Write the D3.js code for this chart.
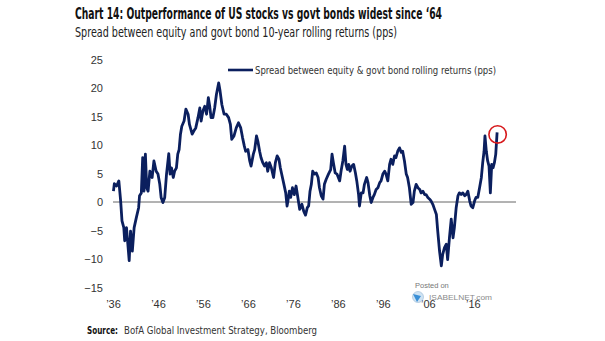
<!DOCTYPE html>
<html lang="en">
<head>
  <meta charset="UTF-8" />
  <title>Chart 14</title>
  <script src="https://d3js.org/d3.v7.min.js"></script>
  <style>
    body { margin: 0; background: #fff; }
    svg { display: block; font-family: "Liberation Sans Narrow", "DejaVu Sans Condensed", "Open Sans", sans-serif; }
    .tick text { fill: #333; font-size: 11px; }
  </style>
</head>
<body>
  <svg id="chart" width="605" height="341"></svg>
  <script>
    // spread between equity & govt bond 10y rolling returns (pps)
    const years = [
      1936.1, 1936.3, 1936.8, 1937.3, 1937.7, 1938.0, 1938.4, 1938.6, 1939.0, 1939.3,
      1939.6, 1939.9, 1940.3, 1940.7, 1941.2, 1941.7, 1941.9, 1942.3, 1942.6, 1942.9,
      1943.2, 1943.5, 1943.8, 1944.2, 1944.7, 1945.1, 1945.6, 1946.0, 1946.4, 1946.7,
      1947.1, 1947.5, 1947.9, 1948.4, 1948.7, 1949.0, 1949.4, 1949.7, 1950.1, 1950.4,
      1950.7, 1951.0, 1951.3, 1951.8, 1952.2, 1952.7, 1953.0, 1953.6, 1954.0, 1954.4,
      1954.9, 1955.3, 1955.6, 1956.0, 1956.4, 1956.8, 1957.2, 1957.5, 1957.8, 1958.2,
      1958.6, 1959.0, 1959.5, 1959.8, 1960.2, 1960.7, 1961.2, 1961.7, 1962.1, 1962.4,
      1962.9, 1963.4, 1963.9, 1964.4, 1964.8, 1965.2, 1965.5, 1966.0, 1966.4, 1966.7,
      1967.2, 1967.5, 1967.9, 1968.2, 1968.6, 1968.9, 1969.3, 1969.7, 1970.1, 1970.4,
      1970.8, 1971.2, 1971.7, 1972.1, 1972.5, 1972.9, 1973.2, 1973.5, 1974.0, 1974.4,
      1974.7, 1974.9, 1975.2, 1975.5, 1975.9, 1976.3, 1976.7, 1977.1, 1977.5, 1978.0,
      1978.4, 1978.8, 1979.2, 1979.5, 1979.8, 1980.1, 1980.4, 1980.8, 1981.2, 1981.6,
      1981.9, 1982.3, 1982.7, 1983.0, 1983.4, 1983.9, 1984.4, 1984.7, 1985.0, 1985.4,
      1985.8, 1986.4, 1986.7, 1987.1, 1987.5, 1987.8, 1988.1, 1988.4, 1988.7, 1989.1,
      1989.5, 1989.9, 1990.2, 1990.6, 1990.8, 1991.2, 1991.6, 1991.9, 1992.4, 1992.7,
      1993.1, 1993.4, 1993.8, 1994.1, 1994.5, 1994.9, 1995.3, 1995.6, 1996.0, 1996.4,
      1996.7, 1997.1, 1997.5, 1997.8, 1998.2, 1998.6, 1998.9, 1999.3, 1999.7, 2000.1,
      2000.4, 2000.8, 2001.2, 2001.5, 2001.9, 2002.3, 2002.7, 2003.0, 2003.4, 2003.8,
      2004.2, 2004.5, 2004.9, 2005.3, 2005.6, 2006.0, 2006.4, 2006.7, 2007.1, 2007.5,
      2007.9, 2008.2, 2008.6, 2009.0, 2009.3, 2009.7, 2010.1, 2010.4, 2010.8, 2011.2,
      2011.6, 2011.9, 2012.3, 2012.7, 2013.0, 2013.4, 2013.8, 2014.2, 2014.5, 2014.9,
      2015.3, 2015.6, 2016.0, 2016.4, 2016.7, 2017.1, 2017.5, 2017.9, 2018.2, 2018.5,
      2018.7, 2019.0, 2019.3, 2019.6, 2019.9, 2020.2, 2020.5, 2020.8, 2021.1, 2021.4
    ];
    const spread = [
      1.9, 3.2, 2.8, 3.7, 0.2, -3.3, -4.5, -6.8, -4.5, -7.4,
      -10.3, -5.1, -8.6, -4.5, -2.7, -1.0, 1.1, 1.6, 7.8, 1.9,
      8.4, 2.5, 1.9, 5.4, 4.3, 7.2, 5.4, 4.9, 3.1, 0.8,
      -0.1, 0.8, 4.9, 8.5, 4.9, 6.0, 4.3, 5.4, 6.0, 8.4,
      9.2, 11.9, 13.3, 14.2, 16.3, 15.4, 13.6, 11.9, 12.5, 13.0,
      14.8, 16.5, 14.2, 16.0, 16.8, 15.4, 18.3, 16.8, 14.8, 14.8,
      16.5, 18.9, 20.9, 19.5, 17.1, 15.4, 15.4, 14.8, 13.6, 11.0,
      11.6, 13.0, 13.9, 13.0, 11.3, 9.8, 8.9, 9.2, 7.2, 6.3,
      8.4, 9.2, 11.6, 10.7, 8.9, 7.8, 6.9, 6.3, 6.9, 5.4,
      6.9, 6.0, 4.3, 6.9, 8.1, 7.5, 6.0, 4.9, 3.1, 1.6,
      -0.7, 0.2, 1.9, 0.8, 2.5, 1.3, 2.8, 0.8, -1.3, -0.4,
      -1.6, -2.3, -1.0, -0.7, 1.9, 3.1, 5.4, 4.9, 5.1, 4.3,
      2.5, 1.1, 0.5, 3.1, 4.0, 4.9, 5.7, 8.4, 6.9, 5.1,
      4.9, 3.7, 5.4, 7.2, 9.8, 6.6, 5.7, 6.6, 5.4, 6.3,
      6.6, 5.1, 3.7, 1.3, -0.7, 1.6, 1.6, 3.1, 4.3, 3.4,
      1.1, -0.1, 0.8, 1.3, 2.2, 2.5, 3.4, 3.7, 4.9, 5.4,
      4.9, 3.7, 6.6, 7.5, 6.6, 8.1, 7.8, 8.9, 9.5, 8.7,
      8.9, 7.2, 4.9, 4.3, 2.5, -0.4, -0.1, 1.9, 3.1, 2.5,
      2.2, 1.6, 1.9, 1.3, 1.3, 0.8, 0.5, 0.2, -0.4, -1.3,
      -2.2, -5.1, -8.6, -11.2, -9.2, -8.0, -7.4, -10.1, -6.3, -3.0,
      -6.3, -4.5, -1.0, 1.1, 1.6, 1.3, 1.6, 1.1, 1.3, 1.9,
      0.2, -0.7, -1.0, 0.2, 0.8, 0.8, 2.5, 4.3, 6.9, 8.9,
      11.6, 8.9, 7.2, 6.3, 1.6, 6.6, 6.0, 6.9, 8.4, 12.2
    ];
    const yTicks = [-15, -10, -5, 0, 5, 10, 15, 20, 25];
    const xTicks = [1936, 1946, 1956, 1966, 1976, 1986, 1996, 2006, 2016];

    const titleText = "Chart 14: Outperformance of US stocks vs govt bonds widest since \u201864";
    const subtitleText = "Spread between equity and govt bond 10-year rolling returns (pps)";
    const legendText = "Spread between equity & govt bond rolling returns (pps)";
    const sourceText = "BofA Global Investment Strategy, Bloomberg";

    const svg = d3.select("#chart");
    const navy = "#0b1f5e";

    const x = d3.scaleLinear().domain([1936, 2025.6]).range([113, 516]);
    const y = d3.scaleLinear().domain([-15, 25]).range([287.5, 59.5]);

    // titles
    svg.append("text").attr("x", 75).attr("y", 19)
      .attr("font-size", 15).attr("font-weight", "bold").attr("fill", "#111")
      .attr("textLength", 367).attr("lengthAdjust", "spacingAndGlyphs")
      .text(titleText);
    svg.append("text").attr("x", 75).attr("y", 37)
      .attr("font-size", 14).attr("fill", "#222")
      .attr("textLength", 322).attr("lengthAdjust", "spacingAndGlyphs")
      .text(subtitleText);

    // y axis, labels only
    const yAxis = svg.append("g").attr("transform", "translate(106,0)")
      .call(d3.axisLeft(y).tickValues(yTicks).tickSize(0).tickPadding(3));
    yAxis.select(".domain").remove();

    const xAxis = svg.append("g").attr("transform", "translate(0,297)")
      .call(d3.axisBottom(x).tickValues(xTicks).tickSize(0).tickPadding(3)
        .tickFormat(d => "\u2019" + String(d).slice(2)));
    xAxis.select(".domain").remove();

    // zero line
    svg.append("line")
      .attr("x1", x(1936)).attr("x2", x(2025.6))
      .attr("y1", y(0)).attr("y2", y(0))
      .attr("stroke", "#666").attr("stroke-width", 1);

    const line = d3.line()
      .x((d, i) => x(years[i]))
      .y(d => y(d));

    svg.append("path")
      .datum(spread)
      .attr("d", line)
      .attr("fill", "none")
      .attr("stroke", navy)
      .attr("stroke-width", 2.8)
      .attr("stroke-linejoin", "round");

    // red circle around latest value
    const last = spread.length - 1;
    svg.append("circle")
      .attr("cx", x(years[last]) + 0.5).attr("cy", y(spread[last]) + 2)
      .attr("r", 8.7)
      .attr("fill", "none").attr("stroke", "#d7191c").attr("stroke-width", 1.6);

    // legend
    svg.append("line").attr("x1", 228).attr("x2", 253).attr("y1", 70).attr("y2", 70)
      .attr("stroke", navy).attr("stroke-width", 2.6);
    svg.append("text").attr("x", 255).attr("y", 74)
      .attr("font-size", 11).attr("fill", "#333")
      .attr("textLength", 241).attr("lengthAdjust", "spacingAndGlyphs")
      .text(legendText);

    // source
    svg.append("text").attr("x", 87).attr("y", 334)
      .attr("font-size", 11).attr("font-weight", "bold").attr("fill", "#111")
      .attr("textLength", 31).attr("lengthAdjust", "spacingAndGlyphs")
      .text("Source:");
    svg.append("text").attr("x", 124).attr("y", 334)
      .attr("font-size", 11).attr("fill", "#333")
      .attr("textLength", 193).attr("lengthAdjust", "spacingAndGlyphs")
      .text(sourceText);

    // watermark
    svg.append("text").attr("x", 415).attr("y", 288)
      .attr("font-family", "Liberation Sans, Arial, sans-serif")
      .attr("font-size", 7.5).attr("fill", "#777").text("Posted on");
    svg.append("circle").attr("cx", 418).attr("cy", 297).attr("r", 5.5)
      .attr("fill", "#cfe3f3").attr("stroke", "#9bb9d3").attr("stroke-width", 0.6);
    svg.append("path").attr("d", "M413,294 L421,296 L417,302 Z").attr("fill", "#3a8fd6");
    svg.append("text").attr("x", 429).attr("y", 300)
      .attr("font-family", "Liberation Sans, Arial, sans-serif")
      .attr("font-size", 8).attr("fill", "#8a8a8a")
      .attr("textLength", 63).attr("lengthAdjust", "spacingAndGlyphs")
      .text("ISABELNET.com");
  </script>
</body>
</html>
